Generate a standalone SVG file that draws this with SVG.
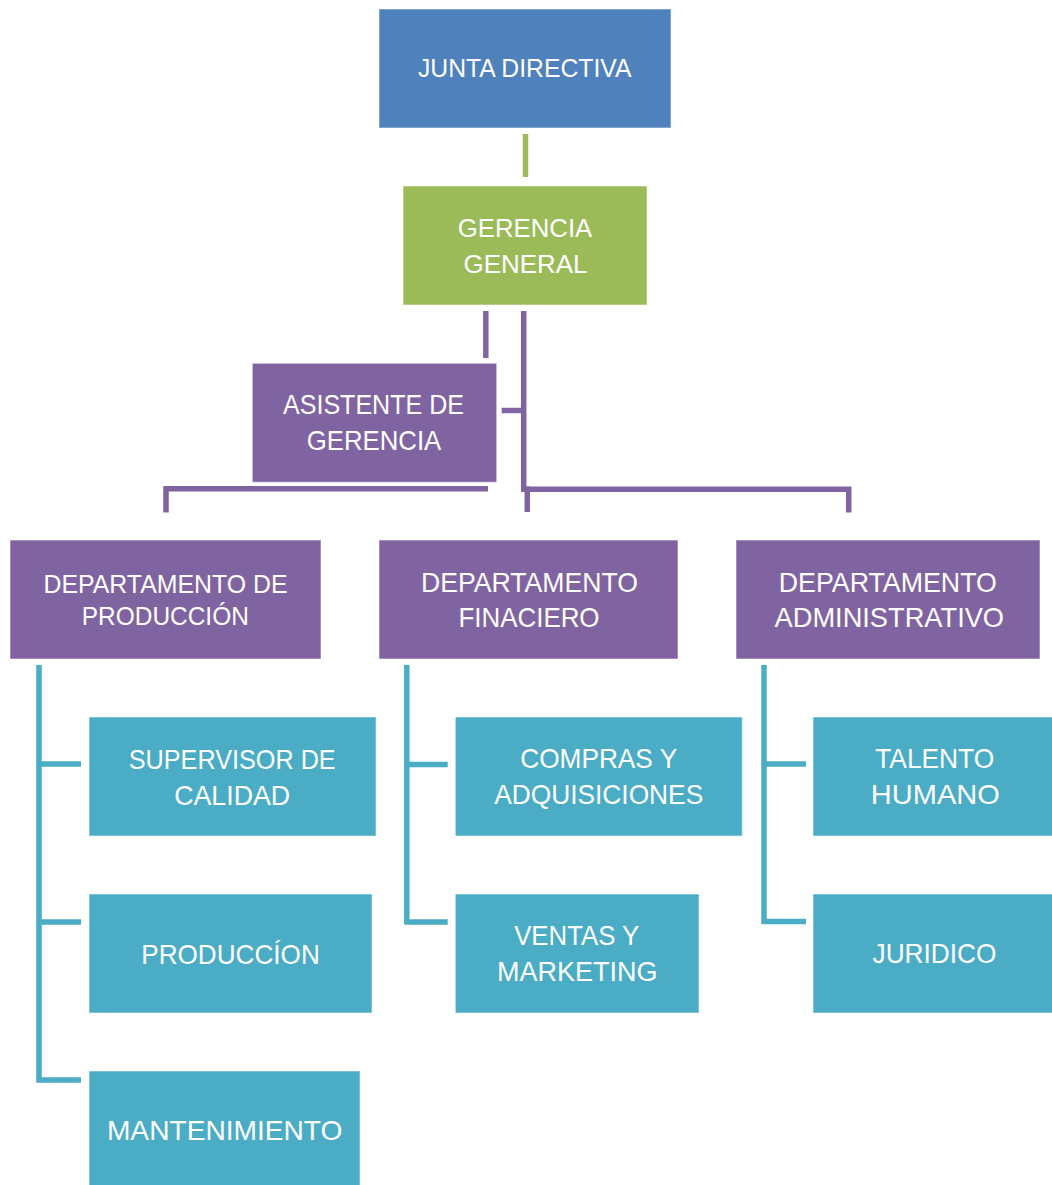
<svg xmlns="http://www.w3.org/2000/svg" width="1052" height="1185" viewBox="0 0 1052 1185">
<style>
.box{stroke:#ffffff;stroke-opacity:0.45;stroke-width:1.2}
.blue{fill:#4F81BD}
.green{fill:#9BBB59}
.purple{fill:#8064A2}
.teal{fill:#4BACC6}
text{font-family:"Liberation Sans",Arial,sans-serif;fill:#ffffff;text-anchor:middle;font-size:28px}
.s{font-size:26px}
.cp{fill:none;stroke:#8064A2;stroke-width:5.5}
.ct{fill:none;stroke:#4BACC6;stroke-width:5.5}
.cg{fill:none;stroke:#9BBB59;stroke-width:5.5}
</style>
<rect width="1052" height="1185" fill="#ffffff"/>
<g id="connectors">
<line class="cg" x1="525.5" y1="134" x2="525.5" y2="177"/>
<line class="cp" x1="485.8" y1="311" x2="485.8" y2="358"/>
<polyline class="cp" points="523.7,311 523.7,489.3 527.3,489.3 527.3,512"/>
<line class="cp" x1="501.7" y1="410.5" x2="523.7" y2="410.5"/>
<polyline class="cp" points="166,512.5 166,488.8 488,488.8"/>
<polyline class="cp" points="523.7,489.3 848.7,489.3 848.7,512.5"/>
<polyline class="ct" points="39,665 39,1080 81,1080"/>
<line class="ct" x1="39" y1="764" x2="81" y2="764"/>
<line class="ct" x1="39" y1="922" x2="81" y2="922"/>
<polyline class="ct" points="406.8,665 406.8,922 447.7,922"/>
<line class="ct" x1="406.8" y1="764.5" x2="447.7" y2="764.5"/>
<polyline class="ct" points="764,665 764,921.5 806,921.5"/>
<line class="ct" x1="764" y1="764" x2="806" y2="764"/>
</g>
<g id="junta"><rect class="box blue" x="379" y="9" width="292" height="119"/><text class="s" x="524.7" y="77.3" textLength="213.5" lengthAdjust="spacingAndGlyphs">JUNTA DIRECTIVA</text></g>
<g id="gerencia"><rect class="box green" x="403" y="186" width="244" height="119"/><text class="s" x="525" y="237.3" textLength="134.5" lengthAdjust="spacingAndGlyphs">GERENCIA</text><text class="s" x="525.5" y="272.7" textLength="124" lengthAdjust="spacingAndGlyphs">GENERAL</text></g>
<g id="asistente"><rect class="box purple" x="252.3" y="363.3" width="244.4" height="119"/><text x="373.5" y="414.3" textLength="181" lengthAdjust="spacingAndGlyphs">ASISTENTE DE</text><text x="374" y="450" textLength="134.5" lengthAdjust="spacingAndGlyphs">GERENCIA</text></g>
<g id="dep-produccion"><rect class="box purple" x="10" y="540" width="311" height="119"/><text class="s" x="165.5" y="592.7" textLength="244" lengthAdjust="spacingAndGlyphs">DEPARTAMENTO DE</text><text class="s" x="165.3" y="625" textLength="167" lengthAdjust="spacingAndGlyphs">PRODUCCIÓN</text></g>
<g id="dep-financiero"><rect class="box purple" x="379" y="540" width="299" height="119"/><text x="529.5" y="591.7" textLength="217" lengthAdjust="spacingAndGlyphs">DEPARTAMENTO</text><text x="529" y="627.3" textLength="141" lengthAdjust="spacingAndGlyphs">FINACIERO</text></g>
<g id="dep-administrativo"><rect class="box purple" x="736" y="540" width="304" height="119"/><text x="887.8" y="592" textLength="218" lengthAdjust="spacingAndGlyphs">DEPARTAMENTO</text><text x="889.3" y="627.3" textLength="229.5" lengthAdjust="spacingAndGlyphs">ADMINISTRATIVO</text></g>
<g id="supervisor"><rect class="box teal" x="89" y="717" width="287" height="119"/><text x="232.2" y="769" textLength="207" lengthAdjust="spacingAndGlyphs">SUPERVISOR DE</text><text x="232.2" y="805" textLength="116" lengthAdjust="spacingAndGlyphs">CALIDAD</text></g>
<g id="produccion"><rect class="box teal" x="89" y="894" width="283" height="119"/><text x="230.5" y="964" textLength="178.5" lengthAdjust="spacingAndGlyphs">PRODUCCÍON</text></g>
<g id="mantenimiento"><rect class="box teal" x="89" y="1071" width="271" height="119"/><text x="224.7" y="1140" textLength="235.5" lengthAdjust="spacingAndGlyphs">MANTENIMIENTO</text></g>
<g id="compras"><rect class="box teal" x="455.3" y="717" width="287" height="119"/><text x="598.7" y="768.3" textLength="157" lengthAdjust="spacingAndGlyphs">COMPRAS Y</text><text x="598.7" y="804" textLength="209" lengthAdjust="spacingAndGlyphs">ADQUISICIONES</text></g>
<g id="ventas"><rect class="box teal" x="455.3" y="894" width="243.7" height="119"/><text x="576.7" y="945" textLength="125" lengthAdjust="spacingAndGlyphs">VENTAS Y</text><text x="577.2" y="980.7" textLength="160.5" lengthAdjust="spacingAndGlyphs">MARKETING</text></g>
<g id="talento"><rect class="box teal" x="813" y="717" width="245" height="119"/><text x="934.7" y="768.3" textLength="119" lengthAdjust="spacingAndGlyphs">TALENTO</text><text x="935.3" y="804" textLength="129" lengthAdjust="spacingAndGlyphs">HUMANO</text></g>
<g id="juridico"><rect class="box teal" x="813" y="894" width="245" height="119"/><text x="934.5" y="962.7" textLength="124" lengthAdjust="spacingAndGlyphs">JURIDICO</text></g>
</svg>
